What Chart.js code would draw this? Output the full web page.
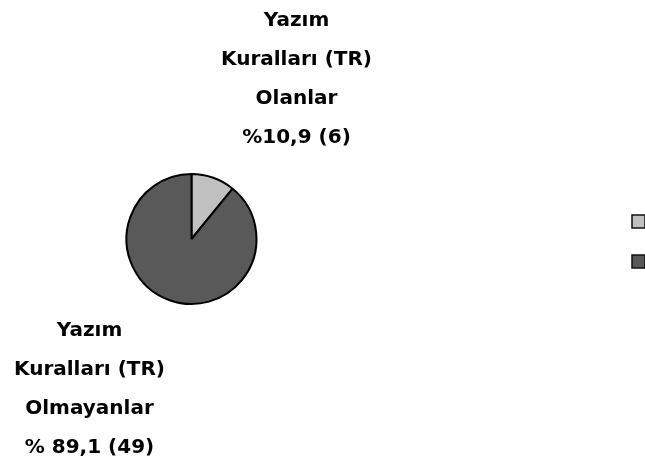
<!DOCTYPE html>
<html>
<head>
<meta charset="utf-8">
<script src="https://cdn.jsdelivr.net/npm/chart.js@4"></script>
<style>
  html, body { margin: 0; padding: 0; background: #fff; overflow: hidden; }
  #wrap { width: 645px; height: 471px; }
</style>
</head>
<body>
<div id="wrap"><canvas id="chart" width="645" height="471"></canvas></div>
<script>
const categories = ["Yazım Kuralları (TR) Olanlar", "Yazım Kuralları (TR) Olmayanlar"];
const counts = [6, 49];
const sliceColors = ["#c0c0c0", "#595959"];
const sliceLabels = [
  ["Yazım", "Kuralları (TR)", "Olanlar", "%10,9 (6)"],
  ["Yazım", "Kuralları (TR)", "Olmayanlar", "% 89,1 (49)"]
];

const FONT = "bold 20px 'DejaVu Sans', sans-serif";

// label blocks placed relative to the pie centre
const labelOffsets = [
  { dx: 105, dy: -218 },
  { dx: -102, dy: 92 }
];
const lineGap = 39;

const pieLabels = {
  id: "pieLabels",
  afterDraw(chart) {
    const ctx = chart.ctx;
    const arcs = chart.getDatasetMeta(0).data;
    ctx.save();
    ctx.font = FONT;
    ctx.fillStyle = "#000";
    ctx.textAlign = "center";
    ctx.textBaseline = "middle";
    arcs.forEach((arc, i) => {
      const off = labelOffsets[i];
      sliceLabels[i].forEach((line, j) => {
        ctx.fillText(line, arc.x + off.dx, arc.y + off.dy + j * lineGap);
      });
    });
    ctx.restore();
  }
};

// legend squares (their text is cut off by the right edge in the original)
const cutLegend = {
  id: "cutLegend",
  afterDraw(chart) {
    const ctx = chart.ctx;
    const items = chart.options.plugins.legend.labels.generateLabels(chart);
    ctx.save();
    items.forEach((item, i) => {
      const x = 632, y = 215 + i * 40, s = 13;
      ctx.fillStyle = item.fillStyle;
      ctx.fillRect(x, y, s, s);
      ctx.lineWidth = 1.5;
      ctx.strokeStyle = "#111";
      ctx.strokeRect(x, y, s, s);
    });
    ctx.restore();
  }
};

new Chart(document.getElementById("chart").getContext("2d"), {
  type: "pie",
  data: {
    labels: categories,
    datasets: [{
      data: counts,
      backgroundColor: sliceColors,
      borderColor: "#000",
      borderWidth: 2,
      hoverOffset: 0
    }]
  },
  options: {
    responsive: false,
    animation: false,
    layout: { padding: { left: 125.5, top: 173, right: 387.5, bottom: 166 } },
    plugins: {
      legend: { display: false },
      tooltip: { enabled: false }
    }
  },
  plugins: [pieLabels, cutLegend]
});
</script>
</body>
</html>
